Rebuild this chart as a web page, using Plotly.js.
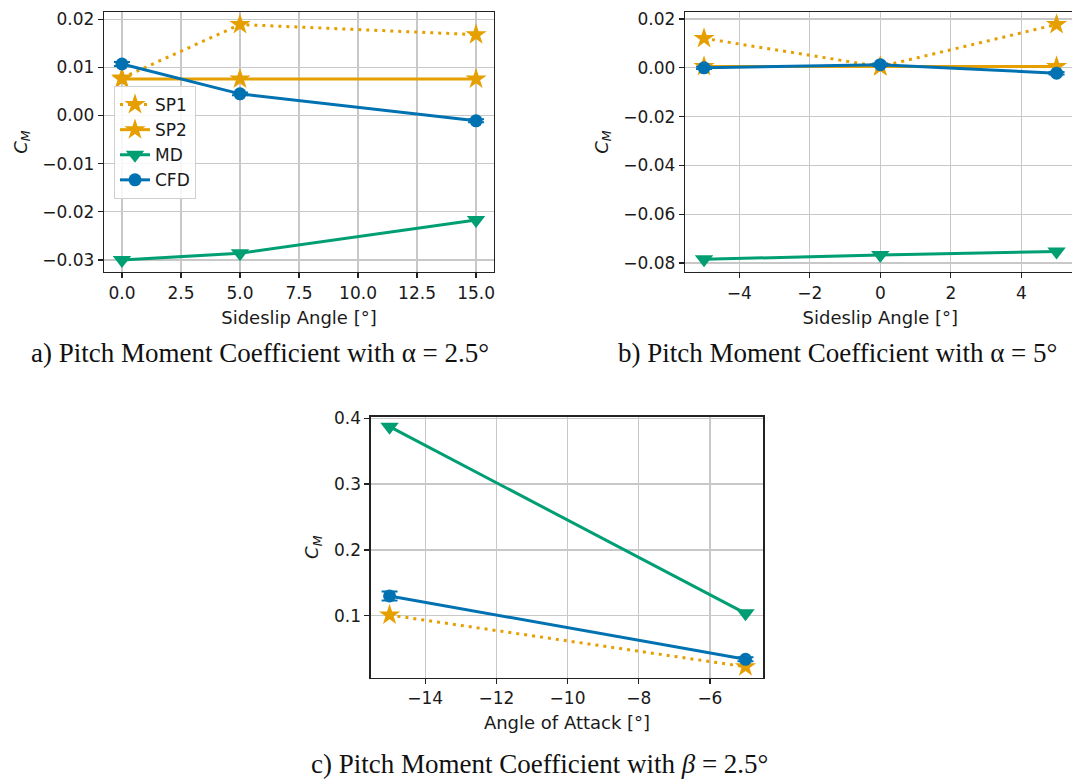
<!DOCTYPE html>
<html>
<head>
<meta charset="utf-8">
<script src="https://cdn.plot.ly/plotly-3.0.1.min.js"></script>
<style>
html,body{margin:0;padding:0;overflow:hidden;background:#fff;}
#chart{width:1078px;height:780px;}
</style>
</head>
<body>
<div id="chart"></div>
<script>
// Panel a: alpha = 2.5 deg, x = sideslip angle
const betaA = [0, 5, 15];
const sp1A = [0.0078, 0.0189, 0.0168];
const sp2A = [0.0076, 0.0076, 0.0076];
const mdA = [-0.0300, -0.0286, -0.0217];
const cfdA = [0.0107, 0.0045, -0.0011];
const cfdErrA = [0.0004, 0.0003, 0.0003];

// Panel b: alpha = 5 deg, x = sideslip angle
const betaB = [-5, 0, 5];
const sp1B = [0.0121, 0.0005, 0.0178];
const sp2B = [0.0006, 0.0006, 0.0006];
const mdB = [-0.0785, -0.0767, -0.0753];
const cfdB = [0.0000, 0.0013, -0.0022];
const cfdErrB = [0.0005, 0.0005, 0.0005];

// Panel c: beta = 2.5 deg, x = angle of attack
const alphaC = [-15, -5];
const sp1C = [0.101, 0.0225];
const mdC = [0.3872, 0.1036];
const cfdC = [0.130, 0.0337];
const cfdErrC = [0.0068, 0.003];

const names = ['SP1', 'SP2', 'MD', 'CFD'];
const captions = [
  'a) Pitch Moment Coefficient with α = 2.5°',
  'b) Pitch Moment Coefficient with α = 5°',
  'c) Pitch Moment Coefficient with <i>β</i> = 2.5°'
];

const ORANGE = '#E69F00', GREEN = '#009E73', BLUE = '#0072B2';
const W = 1078, H = 780;
const LW = 3;

function sp1(x, y, xa, ya, show) {
  return {x: x, y: y, xaxis: xa, yaxis: ya, name: names[0], showlegend: show, mode: 'lines+markers',
    line: {color: ORANGE, width: LW, dash: '3px,5px'},
    marker: {symbol: 'star', size: 16, color: ORANGE, line: {width: 0}}};
}
function sp2(x, y, xa, ya, show) {
  return {x: x, y: y, xaxis: xa, yaxis: ya, name: names[1], showlegend: show, mode: 'lines+markers',
    line: {color: ORANGE, width: LW},
    marker: {symbol: 'star', size: 16, color: ORANGE, line: {width: 0}}};
}
function md(x, y, xa, ya, show) {
  return {x: x, y: y, xaxis: xa, yaxis: ya, name: names[2], showlegend: show, mode: 'lines+markers',
    line: {color: GREEN, width: LW},
    marker: {symbol: 'triangle-down', size: 16, color: GREEN, line: {width: 0}}};
}
function cfd(x, y, e, xa, ya, show) {
  return {x: x, y: y, xaxis: xa, yaxis: ya, name: names[3], showlegend: show, mode: 'lines+markers',
    line: {color: BLUE, width: LW},
    error_y: {type: 'data', array: e, visible: true, color: BLUE, thickness: 2, width: 8},
    marker: {symbol: 'circle', size: 13, color: BLUE, line: {width: 0}}};
}

const traces = [
  sp1(betaA, sp1A, 'x', 'y', true),
  sp2(betaA, sp2A, 'x', 'y', true),
  md(betaA, mdA, 'x', 'y', true),
  cfd(betaA, cfdA, cfdErrA, 'x', 'y', true),
  sp1(betaB, sp1B, 'x2', 'y2', false),
  sp2(betaB, sp2B, 'x2', 'y2', false),
  md(betaB, mdB, 'x2', 'y2', false),
  cfd(betaB, cfdB, cfdErrB, 'x2', 'y2', false),
  sp1(alphaC, sp1C, 'x3', 'y3', false),
  md(alphaC, mdC, 'x3', 'y3', false),
  cfd(alphaC, cfdC, cfdErrC, 'x3', 'y3', false)
];

const tickFont = {family: 'DejaVu Sans', size: 17, color: '#1a1a1a'};
const titleFont = {family: 'DejaVu Sans', size: 18, color: '#1a1a1a'};

function ax(domainPx, range, dtick, fmt, title, isY) {
  const d = isY ? [1 - domainPx[1] / H, 1 - domainPx[0] / H] : [domainPx[0] / W, domainPx[1] / W];
  return {
    domain: d, range: range, dtick: dtick, tick0: 0, tickformat: fmt,
    showgrid: true, gridcolor: '#c8c8c8', gridwidth: 1.2, zeroline: false,
    showline: true, mirror: true, linecolor: '#222', linewidth: 1.3,
    ticks: 'outside', ticklen: 5, tickwidth: 1.2, tickcolor: '#222',
    tickfont: tickFont,
    title: {text: title, font: titleFont, standoff: isY ? 10 : 9},
    automargin: false
  };
}

const layout = {
  width: W, height: H,
  margin: {l: 0, r: 0, t: 0, b: 0},
  paper_bgcolor: '#fff', plot_bgcolor: '#fff',
  showlegend: true,
  legend: {
    x: 114 / W, y: 1 - 86 / H, xanchor: 'left', yanchor: 'top',
    bgcolor: 'rgba(255,255,255,0.85)', bordercolor: '#d0d0d0', borderwidth: 1,
    font: {family: 'DejaVu Sans', size: 17, color: '#1a1a1a'},
    tracegroupgap: 0, itemwidth: 30
  },
  xaxis: ax([104, 494], [-0.76, 15.76], 2.5, '.1f', 'Sideslip Angle [°]', false),
  yaxis: ax([12, 272], [-0.0325, 0.0215], 0.01, '.2f', '<i>C</i><sub><i>M</i></sub>', true),
  xaxis2: ax([685, 1075.6], [-5.54, 5.54], 2, 'd', 'Sideslip Angle [°]', false),
  yaxis2: ax([12, 272], [-0.0837, 0.0229], 0.02, '.2f', '<i>C</i><sub><i>M</i></sub>', true),
  xaxis3: ax([370.7, 763.3], [-15.53, -4.50], 2, 'd', 'Angle of Attack [°]', false),
  yaxis3: ax([416.7, 677.7], [0.0058, 0.4024], 0.1, '.1f', '<i>C</i><sub><i>M</i></sub>', true),
  annotations: [
    {text: captions[0], x: 260 / W, y: 1 - 353 / H, xref: 'paper', yref: 'paper', showarrow: false,
     xanchor: 'center', yanchor: 'middle', font: {family: 'Liberation Serif', size: 27, color: '#111'}},
    {text: captions[1], x: 837 / W, y: 1 - 353 / H, xref: 'paper', yref: 'paper', showarrow: false,
     xanchor: 'center', yanchor: 'middle', font: {family: 'Liberation Serif', size: 27, color: '#111'}},
    {text: captions[2], x: 539 / W, y: 1 - 764 / H, xref: 'paper', yref: 'paper', showarrow: false,
     xanchor: 'center', yanchor: 'middle', font: {family: 'Liberation Serif', size: 27, color: '#111'}}
  ]
};
layout.xaxis.anchor = 'y'; layout.yaxis.anchor = 'x';
layout.xaxis2.anchor = 'y2'; layout.yaxis2.anchor = 'x2';
layout.xaxis3.anchor = 'y3'; layout.yaxis3.anchor = 'x3';

Plotly.newPlot('chart', traces, layout, {displayModeBar: false, staticPlot: true});
</script>
</body>
</html>
